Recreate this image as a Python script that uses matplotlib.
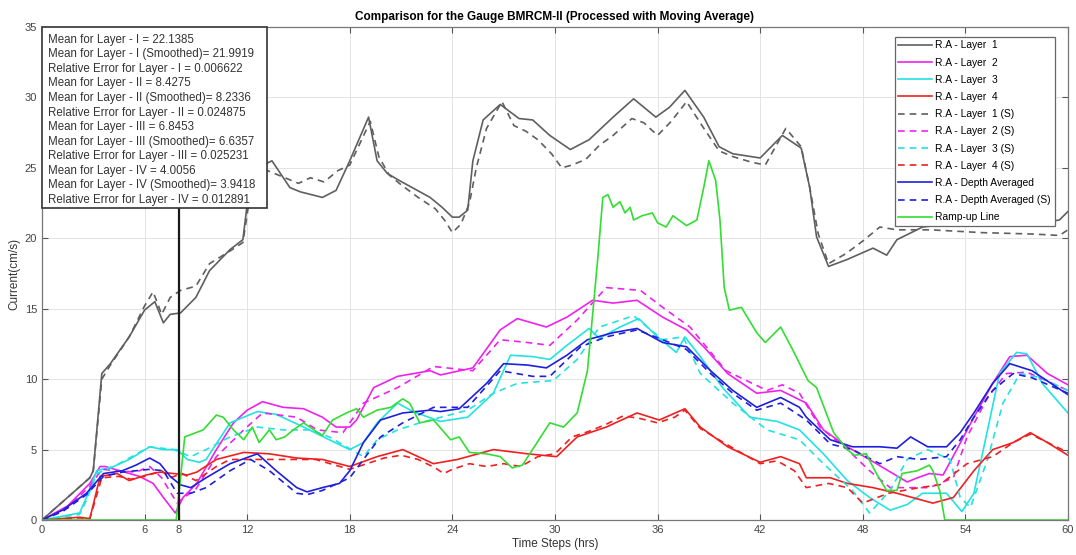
import matplotlib
matplotlib.use("Agg")
import matplotlib.pyplot as plt
from matplotlib.patches import Rectangle

# === DATA ===
# Layer 1
t_l1 = [0, 2.8, 3.0, 3.5, 4.0, 5.1, 6.0, 6.6, 7.1, 7.5, 8.1, 9.0, 9.8, 11.0, 11.75, 12.05, 12.3, 13.45, 14.5, 15.1,
        16.4, 17.2, 18.0, 19.1, 19.6, 20.2, 20.9, 21.8, 22.7, 23.4, 24.0, 24.4, 24.9, 25.2, 25.8, 26.8, 27.9, 28.7,
        29.7, 30.9, 32.0, 33.4, 34.6, 35.9, 36.7, 37.6, 38.7, 39.6, 40.4, 42.0, 43.3, 44.4, 44.9, 45.3, 46.0, 47.1,
        48.6, 49.4, 50.0, 51.5, 53, 55, 57, 58.5, 59.5, 60]
v_l1 = [0, 3.0, 3.5, 10.4, 11.1, 13.0, 14.9, 15.5, 14.0, 14.6, 14.7, 15.8, 17.7, 19.2, 19.9, 22.9, 24.8, 25.5, 23.6, 23.3,
        22.9, 23.4, 25.5, 28.6, 25.5, 24.6, 24.1, 23.5, 22.9, 22.2, 21.5, 21.5, 22.0, 25.5, 28.4, 29.5, 28.5, 28.4,
        27.3, 26.3, 27.0, 28.6, 29.9, 28.6, 29.3, 30.5, 28.6, 26.5, 26.0, 25.7, 27.3, 26.4, 23.6, 20.1, 18.0, 18.5,
        19.3, 18.8, 19.9, 20.8, 21.0, 21.2, 21.0, 21.1, 21.3, 21.9]
t_l1s = [0, 2.8, 3.0, 3.5, 4.0, 5.1, 6.0, 6.5, 7.0, 7.5, 8.1, 9.0, 9.8, 11.0, 11.75, 12.1, 12.5, 13.2, 14.0, 15.0,
         15.7, 16.5, 17.3, 18.0, 19.2, 19.7, 20.3, 21.0, 22.0, 23.0, 23.6, 24.0, 24.5, 25.0, 25.4, 26.0, 26.9, 27.6,
         28.3, 29.0, 29.8, 30.4, 31.0, 31.8, 32.6, 33.4, 34.5, 35.2, 36.0, 36.8, 37.7, 38.6, 39.6, 40.4, 41.5, 42.3,
         43.5, 44.4, 44.9, 45.4, 46.0, 47.0, 48.0, 49.0, 50.0, 52, 55, 58, 59.5, 60]
v_l1s = [0, 3.0, 3.5, 10.0, 11.0, 13.0, 15.2, 16.2, 14.6, 15.8, 16.3, 16.6, 18.2, 19.1, 19.7, 22.5, 24.3, 24.8, 24.4, 23.9,
         24.3, 24.0, 24.8, 25.2, 28.3, 25.8, 24.5, 23.8, 22.9, 22.1, 21.2, 20.4, 21.0, 22.5, 25.0, 27.8, 29.7, 28.0,
         27.6, 27.0, 26.0, 25.0, 25.2, 25.6, 26.6, 27.3, 28.5, 28.2, 27.3, 28.3, 29.7, 28.0, 26.2, 25.8, 25.4, 25.2,
         27.8, 26.5, 23.6, 20.3, 18.2, 18.9, 19.8, 20.8, 20.6, 20.6, 20.4, 20.3, 20.2, 20.6]

# Layer 2
t_l2 = [0, 1.5, 2.8, 3.4, 3.7, 4.4, 5.7, 6.5, 7.1, 7.8, 8.25, 9.05, 10.2, 11.2, 12.0, 12.9, 14.1, 15.3, 16.4, 17.2,
        18.0, 18.4, 19.4, 20.8, 22.7, 23.3, 25.2, 26.8, 27.8, 29.5, 30.7, 32.2, 33.4, 34.8, 36.3, 37.7, 38.7, 40.1,
        41.8, 43.2, 44.7, 45.7, 47.1, 48.8, 50.6, 51.2, 51.9, 52.7, 53.5, 54.5, 55.6, 56.6, 57.6, 58.8, 60]
v_l2 = [0, 1.0, 2.6, 3.8, 3.8, 3.55, 3.1, 2.6, 1.6, 0.5, 1.6, 2.6, 5.0, 6.9, 7.8, 8.4, 8.0, 7.9, 7.3, 6.6,
        6.6, 7.1, 9.4, 10.2, 10.6, 10.3, 10.8, 13.5, 14.3, 13.7, 14.4, 15.6, 15.4, 15.6, 14.4, 13.5, 12.3, 10.4,
        9.0, 9.2, 8.3, 6.4, 5.2, 4.0, 2.7, 3.0, 3.3, 3.2, 5.0, 7.3, 9.7, 11.6, 11.7, 10.4, 9.6]
t_l2s = [0, 1.5, 2.8, 3.5, 4.5, 5.5, 6.3, 7.0, 7.9, 8.2, 9.0, 10.2, 11.8, 12.9, 14.9, 16.1, 17.6, 18.8, 20.8, 22.9,
         25.2, 26.8, 28.4, 29.7, 31.3, 33.0, 35.0, 36.3, 37.9, 40.0, 42.4, 43.3, 44.3, 45.5, 47.1, 48.4, 49.6, 51.9,
         53.3, 54.1, 55.3, 56.4, 57.6, 60]
v_l2s = [0, 0.9, 2.4, 3.6, 3.5, 3.4, 3.8, 3.0, 1.2, 1.5, 2.2, 4.5, 6.4, 7.6, 7.3, 6.4, 6.2, 8.3, 9.4, 10.9,
         10.6, 12.8, 12.6, 12.4, 14.2, 16.5, 16.3, 15.1, 13.7, 10.6, 9.2, 9.6, 9.0, 6.6, 5.0, 3.5, 2.3, 2.3,
         3.0, 5.9, 8.7, 10.4, 10.5, 9.2]

# Layer 3
t_l3 = [0, 2.2, 2.6, 3.2, 4.2, 5.1, 6.3, 7.1, 7.9, 8.5, 9.2, 9.6, 11.0, 12.6, 13.7, 15.3, 16.8, 18.0, 18.8, 19.6,
        20.8, 21.7, 23.3, 24.9, 26.4, 27.4, 28.7, 29.7, 30.7, 32.0, 32.6, 33.8, 34.9, 36.0, 37.1, 37.6, 38.5, 39.8,
        41.4, 43.0, 44.3, 45.7, 47.1, 48.4, 49.6, 50.6, 51.5, 52.9, 53.8, 54.5, 55.3, 56.0, 57.0, 57.6, 58.5, 60]
v_l3 = [0, 0.5, 1.6, 3.5, 3.8, 4.3, 5.2, 5.0, 5.0, 4.3, 4.1, 4.3, 6.9, 7.7, 7.5, 6.6, 5.7, 5.0, 5.5, 6.9,
        8.3, 7.7, 7.0, 7.3, 9.0, 11.7, 11.6, 11.4, 12.4, 13.6, 12.9, 13.7, 14.3, 13.0, 11.9, 13.0, 11.6, 9.4,
        7.3, 7.0, 6.4, 4.7, 2.8, 1.6, 0.7, 1.1, 1.9, 1.9, 0.6, 1.9, 6.4, 10.4, 11.9, 11.8, 9.7, 7.6]
t_l3s = [0, 2.2, 2.6, 3.2, 4.2, 5.1, 6.3, 7.7, 8.7, 9.6, 11.0, 12.6, 14.1, 15.7, 16.8, 18.8, 19.6, 20.8, 22.1, 24.9,
         26.4, 27.8, 29.9, 31.3, 32.6, 34.6, 36.3, 37.5, 38.5, 40.4, 42.4, 44.3, 45.7, 47.4, 48.4, 49.6, 50.6, 51.8,
         53.1, 53.7, 54.3, 55.3, 56.2, 57.2, 58.4, 60]
v_l3s = [0, 0.4, 1.4, 3.3, 3.8, 4.4, 5.2, 5.0, 4.5, 5.0, 5.9, 6.6, 6.4, 6.4, 5.9, 4.5, 5.7, 6.4, 6.9, 7.8,
         9.0, 9.7, 9.9, 11.4, 13.7, 14.5, 12.8, 13.0, 10.4, 8.3, 6.4, 5.7, 4.0, 2.1, 0.5, 2.1, 4.3, 5.0,
         4.3, 1.6, 0.9, 4.3, 8.3, 10.4, 10.1, 9.2]

# Layer 4
t_l4 = [0, 2.2, 2.8, 3.4, 4.4, 5.1, 6.1, 6.9, 7.7, 8.5, 9.05, 10.2, 11.8, 13.3, 14.9, 16.4, 18.0, 19.6, 21.1, 22.9,
        24.3, 26.4, 28.4, 30.1, 31.3, 33.0, 34.8, 36.1, 37.6, 38.5, 40.1, 42.0, 43.2, 44.3, 44.7, 46.1, 47.1, 48.6,
        50.0, 50.9, 52.1, 53.3, 54.5, 55.6, 56.8, 57.8, 58.8, 60]
v_l4 = [0, 0.2, 0.1, 3.1, 3.3, 2.8, 3.2, 3.4, 3.3, 3.2, 3.4, 4.3, 4.8, 4.7, 4.4, 4.3, 3.8, 4.5, 5.0, 4.0,
        4.3, 5.0, 4.7, 4.5, 5.9, 6.6, 7.6, 7.1, 7.9, 6.6, 5.2, 4.1, 4.5, 4.0, 3.0, 3.0, 2.6, 2.3,
        1.9, 1.6, 1.2, 1.6, 3.5, 5.0, 5.5, 6.2, 5.5, 4.6]
t_l4s = [0, 2.2, 2.8, 3.5, 4.5, 5.2, 6.0, 7.0, 7.5, 8.2, 9.0, 10.2, 11.0, 12.0, 14.0, 16.0, 18.0, 19.0, 20.0, 21.0,
         22.0, 23.0, 23.5, 24.0, 25.0, 26.0, 27.0, 28.0, 29.0, 30.0, 31.0, 32.0, 33.0, 34.0, 35.0, 36.0, 37.0, 37.6,
         38.5, 40.0, 42.0, 43.0, 44.0, 44.7, 46.0, 47.1, 48.0, 49.5, 51.3, 52.5, 54.1, 55.6, 56.8, 57.8, 60]
v_l4s = [0, 0.15, 0.1, 3.0, 3.1, 2.9, 3.1, 3.5, 3.0, 3.3, 2.8, 3.8, 4.3, 4.3, 4.3, 4.3, 3.6, 4.0, 4.4, 4.6,
         4.3, 3.7, 3.3, 3.6, 4.0, 3.8, 4.0, 3.8, 4.5, 4.7, 5.9, 6.3, 6.8, 7.4, 7.2, 6.9, 7.3, 7.8,
         6.5, 5.4, 4.0, 4.2, 3.5, 2.3, 2.6, 2.3, 1.2, 1.9, 2.3, 2.5, 4.0, 4.5, 5.5, 6.1, 4.8]

# Depth averaged
t_da = [0, 1.2, 2.6, 3.6, 4.7, 5.5, 6.3, 6.9, 7.5, 8.1, 8.7, 9.6, 11.0, 12.6, 13.7, 14.9, 15.5, 16.4, 17.4, 18.0,
        18.8, 19.8, 21.1, 22.7, 23.3, 24.4, 26.0, 27.0, 28.4, 29.5, 30.7, 31.9, 33.4, 34.8, 36.3, 37.7, 39.1, 40.4,
        41.8, 43.2, 44.3, 44.7, 46.1, 47.4, 49.0, 50.0, 50.8, 51.8, 52.9, 53.7, 54.5, 55.6, 56.6, 57.9, 60]
v_da = [0, 0.7, 1.9, 3.3, 3.5, 3.9, 4.4, 4.0, 3.1, 2.5, 2.3, 3.0, 4.0, 4.7, 3.5, 2.3, 2.0, 2.3, 2.6, 3.5,
        5.5, 7.1, 7.6, 7.8, 7.7, 7.9, 9.7, 11.1, 11.0, 10.8, 11.7, 12.8, 13.3, 13.6, 12.6, 12.3, 10.6, 9.2,
        8.0, 8.7, 8.0, 7.3, 5.7, 5.2, 5.2, 5.1, 5.9, 5.2, 5.2, 6.2, 7.6, 9.7, 11.1, 10.6, 8.9]
t_das = [0, 1.2, 2.6, 3.6, 4.7, 5.5, 6.3, 7.1, 7.9, 8.7, 9.6, 11.0, 12.2, 13.3, 14.9, 15.5, 16.4, 18.0, 18.8, 19.8,
         21.1, 22.9, 24.9, 26.8, 28.7, 29.7, 31.5, 33.0, 34.8, 36.3, 37.7, 39.1, 40.4, 41.8, 43.2, 44.7, 46.1, 47.4,
         49.0, 50.0, 51.3, 52.9, 53.7, 54.5, 55.6, 56.8, 57.9, 60]
v_das = [0, 0.6, 1.8, 3.1, 3.4, 3.5, 3.6, 3.5, 1.9, 1.9, 2.3, 3.5, 4.3, 3.5, 1.9, 1.8, 2.1, 3.0, 4.3, 5.9,
         6.9, 8.0, 8.0, 10.6, 10.2, 10.2, 12.3, 13.0, 13.5, 12.8, 12.1, 10.4, 9.0, 7.8, 8.3, 7.1, 5.4, 5.0,
         4.0, 4.5, 4.3, 4.5, 5.7, 7.3, 9.2, 10.4, 10.1, 9.0]

# Ramp-up line
t_ramp = [0, 7.85, 8.35, 9.43, 10.2, 10.6, 11.2, 11.8, 12.3, 12.7, 13.3, 13.7, 14.2, 14.7, 15.3, 15.9, 16.4, 17.0,
          17.8, 18.4, 18.8, 19.6, 20.4, 21.1, 21.5, 22.1, 22.9, 23.9, 24.4, 25.0, 26.0, 26.8, 27.5, 28.1, 28.9,
          29.7, 30.5, 31.3, 31.9, 32.5, 32.8, 33.1, 33.4, 33.8, 34.1, 34.4, 34.6, 35.1, 35.7, 36.0, 36.5, 36.9,
          37.7, 38.3, 38.7, 39.0, 39.4, 39.65, 39.9, 40.2, 40.9, 41.8, 42.3, 43.2, 43.9, 44.8, 45.3, 46.3, 47.1,
          47.5, 48.2, 48.8, 49.4, 50.0, 50.3, 51.2, 51.9, 52.1, 52.5, 52.8, 60]
v_ramp = [0, 0, 5.9, 6.4, 7.45, 7.3, 6.4, 5.7, 6.6, 5.5, 6.4, 5.7, 5.9, 6.4, 6.9, 6.4, 6.0, 7.1,
          7.6, 7.9, 7.3, 7.8, 8.0, 8.6, 8.3, 6.9, 7.1, 5.7, 5.9, 4.8, 4.7, 4.5, 3.7, 3.9, 5.4,
          6.9, 6.6, 7.6, 10.6, 18.5, 22.9, 23.1, 22.2, 22.6, 21.8, 22.2, 21.3, 21.6, 21.8, 21.1, 20.8, 21.6,
          20.9, 21.3, 23.6, 25.5, 24.1, 21.3, 16.5, 14.9, 15.1, 13.3, 12.6, 13.7, 12.1, 9.9, 9.4, 6.2, 5.0,
          4.6, 4.7, 3.3, 2.1, 2.1, 3.3, 3.5, 3.9, 3.5, 2.1, 0, 0]

ramp_time = 8

stats_text = [
    "Mean for Layer - I = 22.1385",
    "Mean for Layer - I (Smoothed)= 21.9919",
    "Relative Error for Layer - I = 0.006622",
    "Mean for Layer - II = 8.4275",
    "Mean for Layer - II (Smoothed)= 8.2336",
    "Relative Error for Layer - II = 0.024875",
    "Mean for Layer - III = 6.8453",
    "Mean for Layer - III (Smoothed)= 6.6357",
    "Relative Error for Layer - III = 0.025231",
    "Mean for Layer - IV = 4.0056",
    "Mean for Layer - IV (Smoothed)= 3.9418",
    "Relative Error for Layer - IV = 0.012891",
]

x_ticks = [0, 6, 8, 12, 18, 24, 30, 36, 42, 48, 54, 60]
y_ticks = [0, 5, 10, 15, 20, 25, 30, 35]

# === STYLE ===
plt.rcParams['font.family'] = ['Liberation Sans', 'DejaVu Sans']
c_gray = '#5f5f5f'
c_mag = '#ee22ee'
c_cyan = '#22e2e2'
c_red = '#ee2020'
c_blue = '#1f1fdd'
c_green = '#33dd33'
dash = (0, (4, 3))
lw = 1.2

series = [
    (t_l1, v_l1, c_gray, '-', 'R.A - Layer  1'),
    (t_l2, v_l2, c_mag, '-', 'R.A - Layer  2'),
    (t_l3, v_l3, c_cyan, '-', 'R.A - Layer  3'),
    (t_l4, v_l4, c_red, '-', 'R.A - Layer  4'),
    (t_l1s, v_l1s, c_gray, dash, 'R.A - Layer  1 (S)'),
    (t_l2s, v_l2s, c_mag, dash, 'R.A - Layer  2 (S)'),
    (t_l3s, v_l3s, c_cyan, dash, 'R.A - Layer  3 (S)'),
    (t_l4s, v_l4s, c_red, dash, 'R.A - Layer  4 (S)'),
    (t_da, v_da, c_blue, '-', 'R.A - Depth Averaged'),
    (t_das, v_das, c_blue, dash, 'R.A - Depth Averaged (S)'),
    (t_ramp, v_ramp, c_green, '-', 'Ramp-up Line'),
]

for t, v, c, ls, name in series:
    if len(t) != len(v):
        raise ValueError(f"{name}: {len(t)} vs {len(v)}")

# === PLOT ===
fig = plt.figure(figsize=(10.76, 5.55), dpi=100)
ax = fig.add_axes([0.039, 0.063, 0.9535, 0.8884])

for t, v, c, ls, name in series:
    ax.plot(t, v, color=c, linestyle=ls, linewidth=lw, label=name)

ax.axvline(ramp_time, color='#1a1a1a', linewidth=1.6, zorder=5)

ax.set_xlim(0, 60)
ax.set_ylim(0, 35)
ax.set_xticks(x_ticks)
ax.set_yticks(y_ticks)
ax.grid(True, color='#e3e3e3', linewidth=0.7)
ax.set_axisbelow(True)
ax.tick_params(direction='in', top=True, right=True, length=4, labelsize=8,
               colors='#555555', labelcolor='#444444')
for sp in ax.spines.values():
    sp.set_color('#777777')
    sp.set_linewidth(0.9)

ax.set_title('Comparison for the Gauge BMRCM-II (Processed with Moving Average)',
             fontsize=8.5, fontweight='bold', pad=5)
ax.set_xlabel('Time Steps (hrs)', fontsize=8.5, color='#333333', labelpad=2)
ax.set_ylabel('Current(cm/s)', fontsize=8.5, color='#333333', labelpad=3)

leg = ax.legend(loc='upper right', bbox_to_anchor=(0.987, 0.980), fontsize=7.4,
                handlelength=3.3, labelspacing=0.7, handletextpad=0.3,
                borderpad=0.35, borderaxespad=0, fancybox=False, framealpha=1)
leg.get_frame().set_edgecolor('#666666')
leg.get_frame().set_linewidth(0.9)
leg.set_zorder(10)

# stats box (opaque, covers the ramp line)
box_w = 0.219
box_h = 0.367
ax.add_patch(Rectangle((0, 1 - box_h), box_w, box_h, transform=ax.transAxes,
                       facecolor='white', edgecolor='#333333', linewidth=1.2,
                       zorder=8, clip_on=False))
y0 = 0.974
dy = 0.0295
for i, line in enumerate(stats_text):
    ax.text(0.006, y0 - i * dy, line, transform=ax.transAxes, fontsize=8.3,
            color='#333333', va='center', ha='left', zorder=9)

fig.savefig('out.png', dpi=100)
